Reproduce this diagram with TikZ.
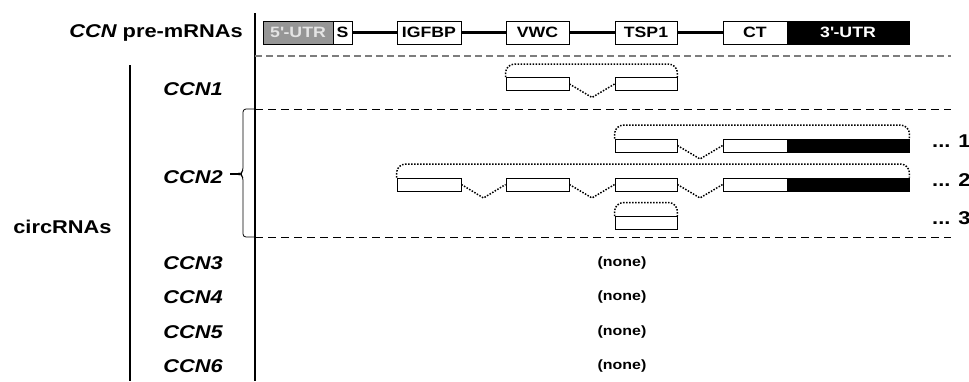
\documentclass[tikz,border=0pt]{standalone}
\usepackage{fontspec}
\setmainfont{Liberation Sans}[FakeStretch=1.18]
\usepackage{tikz}
\usetikzlibrary{calc,positioning}
\definecolor{utrgray}{RGB}{150,150,150}
\definecolor{utrtext}{RGB}{228,228,228}
\definecolor{divgray}{RGB}{125,125,125}
\tikzstyle{domainbox} = [rectangle, draw=black, fill=white, line width=0.9pt, minimum height=23pt, inner sep=0pt, font=\fontsize{15}{17}\selectfont\bfseries]
\tikzstyle{exon} = [rectangle, draw=black, fill=white, line width=0.9pt, minimum height=13pt, inner sep=0pt]
\tikzstyle{utrexon} = [exon, fill=black]
\tikzstyle{backbone} = [line width=2.6pt]
\tikzstyle{splice} = [dash pattern=on 1.5pt off 1.5pt, line width=1.5pt]
\tikzstyle{backsplice} = [splice, rounded corners=9pt]
\tikzstyle{rowlabel} = [font=\fontsize{18.5}{21}\selectfont\bfseries, inner sep=0pt]
\tikzstyle{genelabel} = [rowlabel, font=\fontsize{18.5}{21}\selectfont\bfseries\itshape, anchor=east]
\tikzstyle{nonelabel} = [font=\fontsize{13.5}{15}\selectfont\bfseries, inner sep=0pt]
\tikzstyle{divider} = [dash pattern=on 8pt off 5pt, line width=0.8pt]

\begin{document}
\begin{tikzpicture}[x=1pt, y=-1pt]
\useasboundingbox (0,0) rectangle (969,381);

% Frame lines
\draw[line width=1.5pt] (255,13) -- (255,381);
\draw[line width=1.5pt] (130,65) -- (130,381);
\draw[divider, divgray, line width=1.2pt, dash pattern=on 7pt off 4pt] (255,56) -- (951,56);
\draw[divider] (255,109) -- (951,109);
\draw[divider] (255,237) -- (951,237);

% Pre-mRNA
\node[rowlabel, anchor=east] (pre) at (243,32.5) {{\itshape CCN} pre-mRNAs};
\node[domainbox, fill=utrgray, text=utrtext, minimum width=70pt] (utrfive) at (298,32.5) {5\textquotesingle-UTR};
\node[domainbox, minimum width=19pt] (sig) at (342.5,32.5) {S};
\node[domainbox, minimum width=64pt] (igfbp) at (429,32.5) {IGFBP};
\node[domainbox, minimum width=63pt] (vwc) at (537.5,32.5) {VWC};
\node[domainbox, minimum width=62pt] (tsp) at (646,32.5) {TSP1};
\node[domainbox, minimum width=64pt] (ct) at (755,32.5) {CT};
\node[domainbox, fill=black, text=white, minimum width=122pt] (utrthree) at (848,32.5) {3\textquotesingle-UTR};
\draw[backbone] (sig.east) -- (igfbp.west);
\draw[backbone] (igfbp.east) -- (vwc.west);
\draw[backbone] (vwc.east) -- (tsp.west);
\draw[backbone] (tsp.east) -- (ct.west);

% circRNAs
\node[rowlabel] (circ) at (62.5,227) {circRNAs};

% CCN1
\node[genelabel] (ccnone) at (223,89) {CCN1};
\node[exon, minimum width=63pt] (vwcA) at (537.5,84) {};
\node[exon, minimum width=62pt] (tspA) at (646,84) {};
\draw[splice] (vwcA.east) -- ($(vwcA.east)!0.5!(tspA.west)+(0,13.5)$) -- (tspA.west);
\draw[backsplice] (vwcA.north west) |- ($(tspA.north east)+(0,-13)$) -- (tspA.north east);

% CCN2
\node[genelabel] (ccntwo) at (223,177) {CCN2};
\draw[line width=0.8pt, rounded corners=3pt] (254,109) -- (243,109) -- (243,171) -- (240,174) -- (243,177) -- (243,237) -- (254,237);
\draw[line width=1.3pt] (230,174) -- (240,174);

% circRNA 1
\node[exon, minimum width=62pt] (tspB) at (646,145.5) {};
\node[exon, minimum width=64pt] (ctB) at (755,145.5) {};
\node[utrexon, minimum width=122pt] (utrB) at (848,145.5) {};
\draw[splice] (tspB.east) -- ($(tspB.east)!0.5!(ctB.west)+(0,13.5)$) -- (ctB.west);
\draw[backsplice] (tspB.north west) |- ($(utrB.north east)+(0,-13.5)$) -- (utrB.north east);
\node[rowlabel, anchor=base west] (numone) at (932,147) {... 1};

% circRNA 2
\node[exon, minimum width=64pt] (igfbpC) at (429,184.5) {};
\node[exon, minimum width=63pt] (vwcC) at (537.5,184.5) {};
\node[exon, minimum width=62pt] (tspC) at (646,184.5) {};
\node[exon, minimum width=64pt] (ctC) at (755,184.5) {};
\node[utrexon, minimum width=122pt] (utrC) at (848,184.5) {};
\draw[splice] (igfbpC.east) -- ($(igfbpC.east)!0.5!(vwcC.west)+(0,13.5)$) -- (vwcC.west);
\draw[splice] (vwcC.east) -- ($(vwcC.east)!0.5!(tspC.west)+(0,13.5)$) -- (tspC.west);
\draw[splice] (tspC.east) -- ($(tspC.east)!0.5!(ctC.west)+(0,13.5)$) -- (ctC.west);
\draw[backsplice] (igfbpC.north west) |- ($(utrC.north east)+(0,-13.5)$) -- (utrC.north east);
\node[rowlabel, anchor=base west] (numtwo) at (932,186) {... 2};

% circRNA 3
\node[exon, minimum width=62pt] (tspD) at (646,223) {};
\draw[backsplice] (tspD.north west) |- ($(tspD.north east)+(0,-13.5)$) -- (tspD.north east);
\node[rowlabel, anchor=base west] (numthree) at (932,224) {... 3};

% CCN3 - CCN6
\foreach \g/\y in {3/263, 4/297, 5/332, 6/366} {
  \node[genelabel] (ccn\g) at (223,\y) {CCN\g};
  \node[nonelabel] (none\g) at (622,\y) {(none)};
}
\end{tikzpicture}
\end{document}
